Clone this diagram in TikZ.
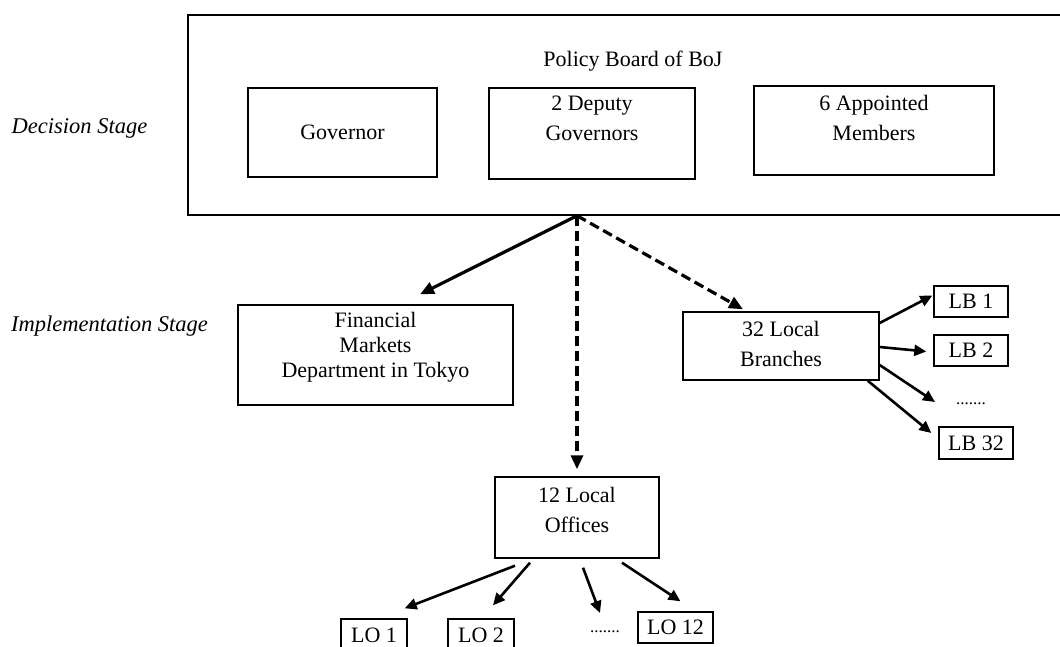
\documentclass[tikz,border=0pt]{standalone}
\usepackage{fontspec}
\setmainfont{Liberation Serif}
\usetikzlibrary{arrows.meta}
\newcommand{\bxtext}[4]{\parbox[c][#2][c]{#1}{\centering #4\par\vspace*{#3}}}
\begin{document}
\begin{tikzpicture}[x=1pt,y=-1pt,
  every node/.style={font=\fontsize{22}{30}\selectfont, text=black},
  box/.style={draw, line width=1.4pt, inner sep=0pt},
  smallbox/.style={draw, line width=1.4pt, inner sep=0pt},
  stage/.style={font=\fontsize{22.5}{26}\selectfont\itshape},
  arr/.style={line width=3.2pt, -{Triangle[length=14pt,width=12pt]}},
  darr/.style={line width=3.2pt, dash pattern=on 10pt off 5pt, -{Triangle[length=14pt,width=12pt]}},
  sarr/.style={line width=2.6pt, -{Triangle[length=12pt,width=11pt]}},
  dots/.style={font=\fontsize{17}{18}\selectfont}]
\useasboundingbox (0,0) rectangle (1060,646);
\clip (0,0) rectangle (1060,646);

% decision stage
\node[box, minimum width=887pt, minimum height=200pt] (board) at (631.5,115) {};
\node (boardlbl) at (633,61) {Policy Board of BoJ};
\node[box] (gov) at (342.5,132.5) {\bxtext{189pt}{89pt}{0pt}{Governor}};
\node[box] (dep) at (592,133.5) {\bxtext{206pt}{91pt}{30pt}{2 Deputy\\Governors}};
\node[box] (app) at (874,130.5) {\bxtext{240pt}{89pt}{26pt}{6 Appointed\\Members}};

\node[stage] (decision) at (79.5,128) {Decision Stage};
\node[stage] (impl) at (109.5,326) {Implementation Stage};

% implementation stage
\node[box] (fin) at (375.5,355) {\fontsize{22}{25}\selectfont\bxtext{275pt}{100pt}{16pt}{Financial\\Markets\\Department in Tokyo}};
\node[box] (lbr) at (781,346) {\bxtext{196pt}{68pt}{4pt}{32 Local\\Branches}};
\node[box] (lo) at (577,517.5) {\bxtext{164pt}{81pt}{15pt}{12 Local\\Offices}};

\node[smallbox, minimum width=74pt, minimum height=31pt] (lb1) at (971,301.5) {LB 1};
\node[smallbox, minimum width=74pt, minimum height=31pt] (lb2) at (971,350.5) {LB 2};
\node[dots] (lbdots) at (971,404) {.......};
\node[smallbox, minimum width=74pt, minimum height=32pt] (lb32) at (976,443) {LB 32};

\node[smallbox, minimum width=66pt, minimum height=32pt] (lo1) at (374,635) {LO 1};
\node[smallbox, minimum width=66pt, minimum height=32pt] (lo2) at (481,635) {LO 2};
\node[dots] (lodots) at (605,632) {.......};
\node[smallbox, minimum width=75pt, minimum height=31pt] (lo12) at (675.5,627.5) {LO 12};

% connectors from the board
\coordinate (src) at ([xshift=-54.5pt]board.south);
\draw[arr] (src) -- ([xshift=44.5pt,yshift=10pt]fin.north);
\draw[darr] (src) -- ([yshift=7pt]lo.north);
\draw[darr] (src) -- ([xshift=-38pt,yshift=2pt]lbr.north);

% local branches
\draw[sarr] ([yshift=23pt]lbr.east) -- ([xshift=-1pt,yshift=6pt]lb1.west);
\draw[sarr] ([yshift=-1pt]lbr.east) -- ([xshift=-7pt,yshift=-1pt]lb2.west);
\draw[sarr] ([yshift=-19pt]lbr.east) -- ([xshift=-36pt,yshift=2pt]lbdots.center);
\draw[sarr] ([xshift=-12pt]lbr.south east) -- ([xshift=-7pt,yshift=10pt]lb32.west);

% local offices
\draw[sarr] ([xshift=-62pt,yshift=-7pt]lo.south) -- ([xshift=-3pt,yshift=10pt]lo1.north east);
\draw[sarr] ([xshift=-47pt,yshift=-4pt]lo.south) -- ([xshift=12pt,yshift=13pt]lo2.north);
\draw[sarr] ([xshift=6pt,yshift=-9pt]lo.south) -- ([xshift=-5pt,yshift=19pt]lodots.center);
\draw[sarr] ([xshift=45pt,yshift=-4pt]lo.south) -- ([xshift=5pt,yshift=10pt]lo12.north);
\end{tikzpicture}
\end{document}
